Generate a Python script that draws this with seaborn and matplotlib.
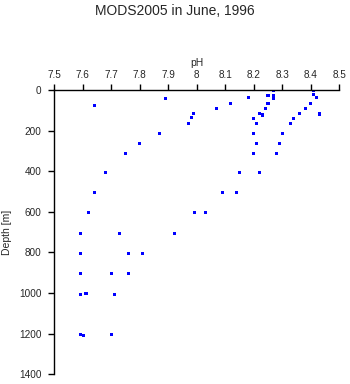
import matplotlib
matplotlib.use("Agg")
import matplotlib.pyplot as plt
import seaborn as sns
import pandas as pd

ph = [7.641, 7.890, 7.681, 7.750, 7.800, 7.870, 7.641, 7.971, 7.981, 7.990,
      8.070, 8.119, 8.090, 8.139, 8.150, 8.181, 8.199, 8.209, 8.199, 8.209,
      8.199, 8.220, 8.220, 8.230, 8.241, 8.250, 8.250, 8.270, 8.270, 8.270,
      8.279, 8.290, 8.300, 8.328, 8.339, 8.360, 8.380, 8.399, 8.409, 8.409,
      8.419, 8.430,
      7.620, 7.992, 8.030, 7.592, 7.731, 7.922, 7.592, 7.760, 7.811,
      7.592, 7.701, 7.760, 7.592, 7.612, 7.711, 7.592, 7.603, 7.701]
depth = [77, 44, 405, 312, 263, 213, 504, 164, 135, 115,
         90, 66, 506, 504, 405, 38, 140, 164, 213, 263,
         312, 405, 115, 123, 90, 66, 26, 2, 26, 41,
         312, 263, 213, 164, 140, 115, 90, 66, 2, 24,
         39, 118,
         604, 604, 604, 706, 706, 706, 804, 804, 804,
         904, 904, 904, 1006, 1004, 1006, 1203, 1209, 1205]

x_ticks = [7.5, 7.6, 7.7, 7.8, 7.9, 8.0, 8.1, 8.2, 8.3, 8.4, 8.5]
x_labels = ["7.5", "7.6", "7.7", "7.8", "7.9", "8", "8.1", "8.2", "8.3", "8.4", "8.5"]
y_ticks = [0, 200, 400, 600, 800, 1000, 1200, 1400]

df = pd.DataFrame({"pH": ph, "Depth": depth})

sns.set_style("white")
plt.rcParams["font.family"] = ["Liberation Sans", "DejaVu Sans"]

fig = plt.figure(figsize=(3.5, 3.84), dpi=100)
ax = fig.add_axes([54/350, 1 - 374.3/384, (339.3 - 54)/350, (374.3 - 90)/384])
sns.scatterplot(data=df, x="pH", y="Depth", ax=ax, marker="s", s=5,
                color="#0000ff", edgecolor="none", linewidth=0)

ax.set_xlim(7.5, 8.5)
ax.set_ylim(1400, 0)
ax.xaxis.tick_top()
ax.xaxis.set_label_position("top")
ax.set_xticks(x_ticks)
ax.set_xticklabels(x_labels)
ax.set_yticks(y_ticks)
ax.set_yticklabels([str(v) for v in y_ticks])
ax.tick_params(axis="both", which="both", direction="out", length=4, width=1,
               color="black", labelsize=7.2, top=True, bottom=False,
               left=True, right=False)
ax.tick_params(axis="x", pad=3)
ax.tick_params(axis="y", pad=5)
for s in ["right", "bottom"]:
    ax.spines[s].set_visible(False)
for s in ["top", "left"]:
    ax.spines[s].set_color("black")
    ax.spines[s].set_linewidth(1)
ax.set_xlabel("pH", fontsize=7.5, labelpad=3)
ax.set_ylabel("Depth [m]", fontsize=7.5, labelpad=5)
ax.grid(False)
fig.suptitle("MODS2005 in June, 1996", fontsize=10, y=0.99)

fig.savefig("out.png", dpi=100)
